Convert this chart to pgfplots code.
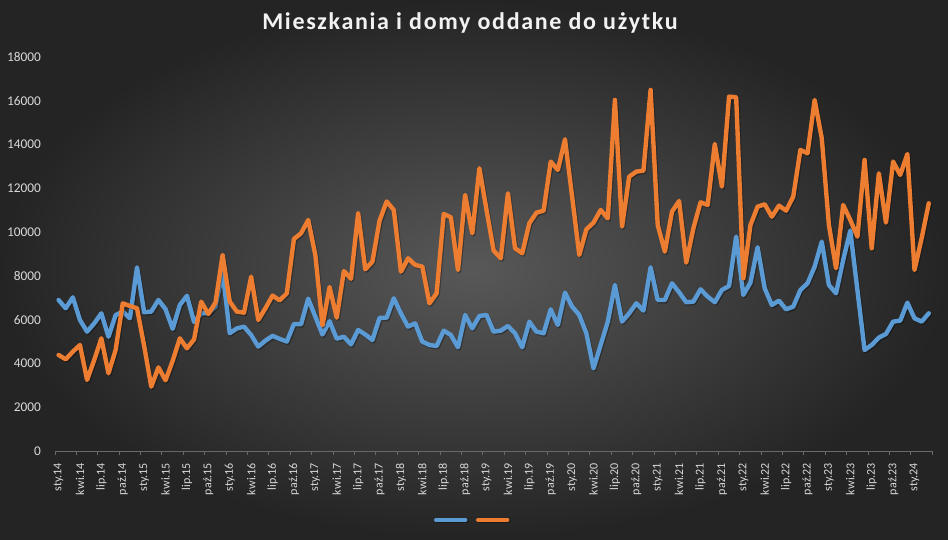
\documentclass[border=0pt]{standalone}
\usepackage{fontspec}
\setmainfont{Carlito}
\usepackage{pgfplots}
\usepackage{pgfplotstable}
\pgfplotsset{compat=1.18}
\definecolor{bgin}{RGB}{88,88,88}
\definecolor{bgout}{RGB}{36,36,36}
\definecolor{sblue}{RGB}{91,155,213}
\definecolor{sorange}{RGB}{237,125,49}
\definecolor{lbl}{RGB}{217,217,217}
\definecolor{axl}{RGB}{105,105,105}

\pgfplotstableread{
i b o
0 6900 4386
1 6520 4189
2 7020 4538
3 5985 4843
4 5450 3244
5 5830 4158
6 6290 5148
7 5220 3549
8 6210 4615
9 6370 6747
10 6060 6625
11 8390 6519
12 6340 4800
13 6370 2939
14 6900 3820
15 6480 3230
16 5580 4120
17 6670 5148
18 7090 4691
19 5890 5100
20 6290 6823
21 6300 6260
22 6600 6780
23 8200 8955
24 5380 6823
25 5600 6366
26 5680 6320
27 5300 7965
28 4770 5985
29 5040 6519
30 5260 7100
31 5120 6880
32 5000 7204
33 5800 9690
34 5790 9945
35 6960 10554
36 6140 8950
37 5320 5740
38 5930 7490
39 5130 6090
40 5220 8220
41 4870 7870
42 5530 10870
43 5320 8300
44 5070 8651
45 6080 10520
46 6090 11400
47 6976 11011
48 6290 8194
49 5681 8803
50 5833 8498
51 4995 8422
52 4843 6747
53 4797 7204
54 5498 10828
55 5300 10676
56 4737 8270
57 6214 11697
58 5605 9945
59 6168 12916
60 6214 11011
61 5452 9153
62 5498 8803
63 5711 11773
64 5376 9260
65 4737 9032
66 5909 10402
67 5452 10889
68 5376 10980
69 6473 13220
70 5757 12839
71 7235 14241
72 6595 11620
73 6214 8955
74 5376 10128
75 3777 10432
76 4843 11011
77 5909 10630
78 7584 16037
79 5909 10250
80 6290 12535
81 6747 12763
82 6412 12808
83 8392 16495
84 6899 10325
85 6899 9107
86 7661 10935
87 7250 11423
88 6793 8605
89 6823 10173
90 7387 11362
91 7052 11240
92 6793 14027
93 7356 12077
94 7539 16190
95 9792 16160
96 7128 7889
97 7691 10325
98 9306 11163
99 7432 11270
100 6671 10706
101 6869 11210
102 6473 10980
103 6595 11620
104 7356 13753
105 7661 13600
106 8422 16037
107 9565 14287
108 7584 10325
109 7204 8347
110 8727 11240
111 10067 10554
112 7340 9792
113 4615 13296
114 4843 9260
115 5178 12687
116 5346 10432
117 5909 13220
118 5955 12610
119 6778 13570
120 6061 8270
121 5909 9717
122 6290 11316
}\data

\begin{document}
\begin{tikzpicture}
\shade[inner color=bgin, outer color=bgout] (0pt,0pt) rectangle (711pt,404.25pt);
\useasboundingbox (0pt,0pt) rectangle (711pt,404.25pt);
\node[anchor=base, text=white!95!black, font=\fontsize{18}{20}\selectfont\bfseries\addfontfeature{LetterSpace=7}] at (352.5pt,381.75pt) {Mieszkania i domy oddane do użytku};
\begin{axis}[
  at={(41.25pt,66pt)}, anchor=south west,
  scale only axis, width=658pt, height=295.5pt,
  xmin=-0.5, xmax=122.5, ymin=0, ymax=18000,
  scaled y ticks=false,
  axis lines*=left,
  y axis line style={draw=none},
  x axis line style={draw=axl, line width=0.75pt},
  ytick={0,2000,...,18000},
  ytick style={draw=none},
  xtick={0,3,...,120},
  xticklabels={sty.14,kwi.14,lip.14,paź.14,sty.15,kwi.15,lip.15,paź.15,sty.16,kwi.16,lip.16,paź.16,sty.17,kwi.17,lip.17,paź.17,sty.18,kwi.18,lip.18,paź.18,sty.19,kwi.19,lip.19,paź.19,sty.20,kwi.20,lip.20,paź.20,sty.21,kwi.21,lip.21,paź.21,sty.22,kwi.22,lip.22,paź.22,sty.23,kwi.23,lip.23,paź.23,sty.24},
  major x tick style={draw=none},
  minor xtick={-0.5,2.5,...,122.5},
  minor x tick style={draw=axl, line width=0.75pt},
  tick align=outside,
  minor tick length=3pt,
  major tick length=3pt,
  xticklabel shift=2.5pt,
  /pgf/number format/assume math mode=true,
  /pgf/number format/1000 sep={},
  yticklabel style={font=\fontsize{10}{12}\selectfont, text=lbl, xshift=-4pt},
  xticklabel style={rotate=90, anchor=east, font=\fontsize{9}{11}\selectfont, text=lbl},
  legend style={at={(0.478,-0.175)}, anchor=center, draw=none, fill=none, legend columns=2,
    /tikz/every even column/.append style={column sep=2.5pt}},
  legend image code/.code={\draw[#1, line width=3pt, line cap=round] (0pt,0pt) -- (22pt,0pt);},
  clip=false,
]
\addplot[sblue, line width=3.3pt, line join=round, line cap=round,
  preaction={draw=black, opacity=0.3, transform canvas={xshift=0.8pt,yshift=-1pt}}] table[x=i,y=b] {\data};
\addlegendentry{}
\addplot[sorange, line width=3.3pt, line join=round, line cap=round,
  preaction={draw=black, opacity=0.3, transform canvas={xshift=0.8pt,yshift=-1pt}}] table[x=i,y=o] {\data};
\addlegendentry{}
\end{axis}
\end{tikzpicture}
\end{document}
